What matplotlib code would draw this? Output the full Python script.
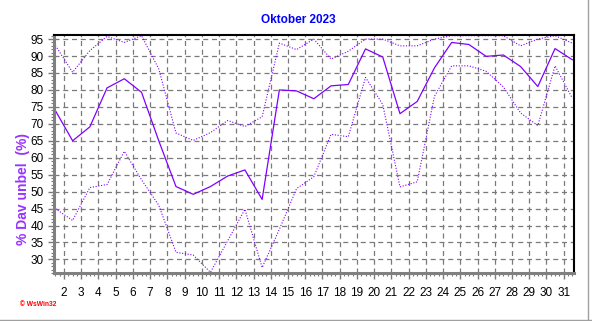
import matplotlib
matplotlib.use('Agg')
import matplotlib.pyplot as plt
from matplotlib.lines import Line2D
from matplotlib.ticker import MultipleLocator
import numpy as np

# Daily values for October 2023, plotted at midday
days = np.arange(1, 32) + 0.5
mean_vals = [73.9, 65.0, 69.1, 80.6, 83.3, 79.3, 65.0, 51.5, 49.2, 51.5,
             54.6, 56.4, 47.7, 80.0, 79.7, 77.4, 81.2, 81.6, 92.1, 89.7,
             73.0, 76.6, 86.5, 94.0, 93.4, 89.9, 90.3, 86.9, 81.0, 92.2, 88.9]
max_vals = [93.1, 85.2, 91.6, 95.8, 94.0, 96.0, 86.2, 67.3, 65.1, 67.4,
            71.0, 69.2, 72.1, 93.8, 91.9, 95.0, 89.1, 91.4, 95.0, 95.0,
            93.0, 93.0, 95.0, 96.0, 96.0, 96.0, 96.0, 93.0, 95.0, 96.0, 93.8]
min_vals = [45.0, 41.5, 51.2, 52.1, 61.9, 53.5, 46.0, 32.1, 31.3, 26.2,
            35.5, 44.8, 27.6, 38.9, 50.9, 54.4, 66.9, 66.2, 83.7, 75.7,
            51.4, 52.9, 78.1, 87.1, 87.1, 85.5, 80.9, 73.2, 69.5, 87.1, 77.6]
xtick_days = list(range(2, 32))
ytick_vals = list(range(30, 100, 5))

line_color = '#8000ff'
grid_color = '#7a7a7a'

plt.rcParams['font.family'] = 'Liberation Sans'

fig = plt.figure(figsize=(5.92, 3.21), dpi=100)
fig.patch.set_facecolor('white')
ax = fig.add_axes([54 / 592, 48 / 321, 520 / 592, 238 / 321])

ax.plot(days, max_vals, color=line_color, lw=0.8, linestyle=(0, (1, 1.5)))
ax.plot(days, min_vals, color=line_color, lw=0.8, linestyle=(0, (1, 1.5)))
ax.plot(days, mean_vals, color=line_color, lw=0.9)

ax.set_xlim(1.42, 31.6)
ax.set_ylim(26.0, 96.2)

ax.set_xticks(xtick_days)
ax.set_xticklabels([str(d) for d in xtick_days])
ax.xaxis.set_minor_locator(MultipleLocator(0.25))
ax.set_yticks(ytick_vals)
ax.yaxis.set_minor_locator(MultipleLocator(1))

ax.tick_params(axis='both', which='major', labelsize=8.5, colors=grid_color,
               labelcolor='black', length=4, width=1)
ax.tick_params(axis='both', which='minor', colors=grid_color, length=2, width=0.8)
ax.tick_params(axis='x', pad=6)

ax.grid(True, which='major', color=grid_color, linestyle=(0, (4, 3)), linewidth=0.9)
ax.set_axisbelow(True)

for side in ['left', 'bottom']:
    ax.spines[side].set_color('#808080')
    ax.spines[side].set_linewidth(2.2)
for side in ['top', 'right']:
    ax.spines[side].set_color('black')
    ax.spines[side].set_linewidth(1.5)

fig.text(298 / 592, 1 - 20 / 321, 'Oktober 2023', color='#0000ff',
         fontsize=8.5, fontweight='bold', ha='center', va='center')
fig.text(23 / 592, 1 - 189 / 321, '% Dav unbel  (%)', color='#9933ff',
         fontsize=10, fontweight='bold', rotation=90, ha='center', va='center')
fig.text(20 / 592, 1 - 305 / 321, '© WsWin32', color='red',
         fontsize=4.8, fontweight='bold', ha='left', va='center')

# thin outer frame on right and bottom
fig.add_artist(Line2D([588 / 592, 588 / 592], [0, 1], color='#a0a0a0', lw=1))
fig.add_artist(Line2D([0, 1], [1.5 / 321, 1.5 / 321], color='#a0a0a0', lw=1))

fig.savefig('out.png', dpi=100, facecolor='white')
